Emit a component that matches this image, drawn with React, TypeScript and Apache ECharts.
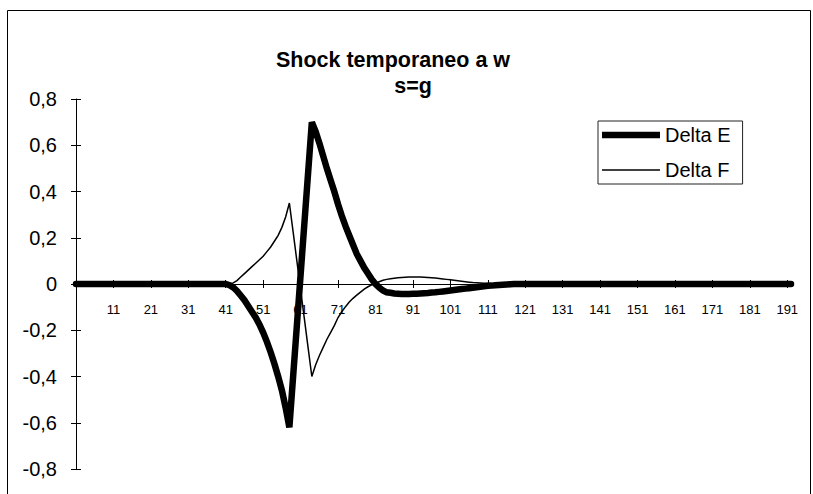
import React, { useEffect, useRef } from "react";
import * as echarts from "echarts";

const categories: string[] = Array.from({ length: 192 }, (_, i) => String(i + 1));

const yMin = -0.8;
const yMax = 0.8;
const yStep = 0.2;
const yTickLabels = ["-0,8", "-0,6", "-0,4", "-0,2", "0", "0,2", "0,4", "0,6", "0,8"];

const seriesNames = ["Delta E", "Delta F"];

const deltaE: number[] = [
  0, 0, 0, 0, 0, 0, 0, 0, 0, 0,
  0, 0, 0, 0, 0, 0, 0, 0, 0, 0,
  0, 0, 0, 0, 0, 0, 0, 0, 0, 0,
  0, 0, 0, 0, 0, 0, 0, 0, 0, 0,
  0, -0.005, -0.015, -0.03, -0.05, -0.07, -0.095, -0.12, -0.145, -0.175,
  -0.21, -0.25, -0.295, -0.345, -0.4, -0.46, -0.535, -0.62, -0.4, -0.18,
  0.04, 0.26, 0.48, 0.7, 0.66, 0.61, 0.555, 0.5, 0.45, 0.4,
  0.345, 0.295, 0.25, 0.21, 0.17, 0.13, 0.1, 0.07, 0.045, 0.02,
  0, -0.015, -0.028, -0.036, -0.038, -0.041, -0.042, -0.043, -0.043, -0.043,
  -0.042, -0.042, -0.041, -0.04, -0.039, -0.037, -0.036, -0.034, -0.032, -0.03,
  -0.028, -0.026, -0.024, -0.022, -0.02, -0.018, -0.016, -0.014, -0.012, -0.01,
  -0.008, -0.007, -0.005, -0.004, -0.003, -0.002, -0.001, 0, 0, 0,
  0, 0, 0, 0, 0, 0, 0, 0, 0, 0,
  0, 0, 0, 0, 0, 0, 0, 0, 0, 0,
  0, 0, 0, 0, 0, 0, 0, 0, 0, 0,
  0, 0, 0, 0, 0, 0, 0, 0, 0, 0,
  0, 0, 0, 0, 0, 0, 0, 0, 0, 0,
  0, 0, 0, 0, 0, 0, 0, 0, 0, 0,
  0, 0, 0, 0, 0, 0, 0, 0, 0, 0,
  0, 0,
];

const deltaF: number[] = [
  0, 0, 0, 0, 0, 0, 0, 0, 0, 0,
  0, 0, 0, 0, 0, 0, 0, 0, 0, 0,
  0, 0, 0, 0, 0, 0, 0, 0, 0, 0,
  0, 0, 0, 0, 0, 0, 0, 0, 0, 0,
  0, 0, 0.005, 0.015, 0.03, 0.045, 0.06, 0.075, 0.09, 0.105,
  0.12, 0.14, 0.16, 0.185, 0.21, 0.245, 0.29, 0.35, 0.225, 0.1,
  -0.025, -0.15, -0.275, -0.4, -0.35, -0.31, -0.275, -0.24, -0.21, -0.18,
  -0.145, -0.12, -0.098, -0.078, -0.062, -0.048, -0.035, -0.022, -0.012, -0.004,
  0.003, 0.01, 0.016, 0.02, 0.023, 0.025, 0.027, 0.028, 0.029, 0.03,
  0.03, 0.03, 0.03, 0.029, 0.028, 0.027, 0.026, 0.024, 0.022, 0.02,
  0.018, 0.016, 0.014, 0.012, 0.01, 0.008, 0.006, 0.005, 0.004, 0.003,
  0.002, 0.001, 0.001, 0, 0, 0, 0, 0, 0, 0,
  0, 0, 0, 0, 0, 0, 0, 0, 0, 0,
  0, 0, 0, 0, 0, 0, 0, 0, 0, 0,
  0, 0, 0, 0, 0, 0, 0, 0, 0, 0,
  0, 0, 0, 0, 0, 0, 0, 0, 0, 0,
  0, 0, 0, 0, 0, 0, 0, 0, 0, 0,
  0, 0, 0, 0, 0, 0, 0, 0, 0, 0,
  0, 0, 0, 0, 0, 0, 0, 0, 0, 0,
  0, 0,
];

const FONT = "'Liberation Sans', Arial, Helvetica, sans-serif";

const GRID_TOP = 99;
const GRID_BOTTOM = 25;
const CHART_H = 494;

export default function App() {
  const ref = useRef<HTMLDivElement>(null);

  useEffect(() => {
    if (!ref.current) return;
    const chart = echarts.init(ref.current, undefined, { renderer: "svg" });
    const yLabel = (v: number) => yTickLabels[Math.round((v - yMin) / yStep)] ?? "";
    const axisLineStyle = { color: "#000", width: 1 };
    const plotH = CHART_H - GRID_TOP - GRID_BOTTOM;
    const zeroOffset = -(plotH * (0 - yMin)) / (yMax - yMin);
    const tickEvery10 = (i: number) => i % 10 === 0;

    chart.setOption({
      animation: false,
      backgroundColor: "#fff",
      textStyle: { fontFamily: FONT },
      title: [
        {
          text: "Shock temporaneo a w",
          left: 388,
          top: 44,
          textAlign: "center",
          textStyle: { fontFamily: FONT, fontSize: 21.5, fontWeight: "bold", color: "#000" },
        },
        {
          text: "s=g",
          left: 408,
          top: 70,
          textAlign: "center",
          textStyle: { fontFamily: FONT, fontSize: 21.5, fontWeight: "bold", color: "#000" },
        },
      ],
      legend: {
        orient: "vertical",
        left: 598,
        top: 121,
        padding: [4, 12, 4, 4],
        itemGap: 15,
        itemWidth: 58,
        itemHeight: 14,
        symbolKeepAspect: true,
        borderColor: "#222",
        borderWidth: 1,
        borderRadius: 0,
        textStyle: { fontFamily: FONT, fontSize: 20, color: "#000" },
        data: [
          { name: seriesNames[0], icon: "path://M0 0H100V11H0Z", itemStyle: { color: "#000" } },
          { name: seriesNames[1], icon: "path://M0 0H100V2.6H0Z", itemStyle: { color: "#000" } },
        ],
      },
      grid: { left: 76, right: 22, top: GRID_TOP, bottom: GRID_BOTTOM, containLabel: false },
      xAxis: [
        {
          type: "category",
          data: categories,
          boundaryGap: false,
          axisLine: { onZero: true, lineStyle: axisLineStyle },
          axisTick: { show: true, interval: tickEvery10, length: 4, lineStyle: axisLineStyle },
          axisLabel: { show: false },
          splitLine: { show: false },
        },
        {
          type: "category",
          data: categories,
          position: "bottom",
          offset: zeroOffset,
          boundaryGap: false,
          axisLine: { show: false, onZero: false },
          axisTick: { show: true, inside: true, interval: tickEvery10, length: 4, lineStyle: axisLineStyle },
          axisLabel: {
            interval: (i: number) => i % 10 === 0 && i > 0,
            fontFamily: FONT,
            fontSize: 13,
            color: "#000",
            margin: 19,
          },
          splitLine: { show: false },
        },
      ],
      yAxis: [
        {
          type: "value",
          min: yMin,
          max: yMax,
          interval: yStep,
          axisLine: { show: true, lineStyle: axisLineStyle },
          axisTick: { show: true, length: 5, lineStyle: axisLineStyle },
          axisLabel: { formatter: yLabel, fontFamily: FONT, fontSize: 20, color: "#000", margin: 19 },
          splitLine: { show: false },
        },
        {
          type: "value",
          min: yMin,
          max: yMax,
          interval: yStep,
          position: "left",
          axisLine: { show: false },
          axisTick: { show: true, inside: true, length: 5, lineStyle: axisLineStyle },
          axisLabel: { show: false },
          splitLine: { show: false },
        },
      ],
      series: [
        {
          name: seriesNames[0],
          type: "line",
          xAxisIndex: 0,
          yAxisIndex: 0,
          data: deltaE,
          symbol: "none",
          lineStyle: { color: "#000", width: 6.5, cap: "round", join: "miter" },
          itemStyle: { color: "#000" },
          z: 3,
        },
        {
          name: seriesNames[1],
          type: "line",
          xAxisIndex: 0,
          yAxisIndex: 0,
          data: deltaF,
          symbol: "none",
          lineStyle: { color: "#000", width: 1.5, join: "miter" },
          itemStyle: { color: "#000" },
          z: 4,
        },
      ],
      graphic: [
        {
          type: "rect",
          silent: true,
          shape: { x: 7.5, y: 10.5, width: 803, height: 500 },
          style: { fill: "none", stroke: "#000", lineWidth: 1 },
        },
      ],
    });

    return () => chart.dispose();
  }, []);

  return (
    <div
      ref={ref}
      style={{ position: "fixed", left: 0, top: 0, width: 813, height: 494 }}
    />
  );
}
